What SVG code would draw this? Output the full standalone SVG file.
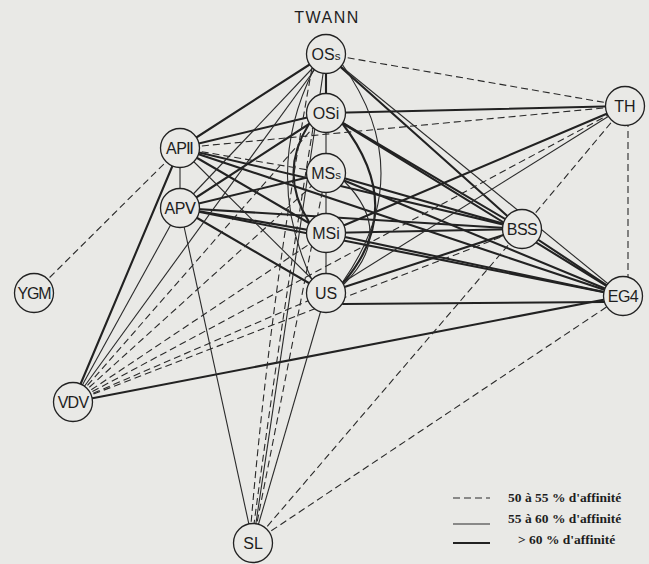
<svg xmlns="http://www.w3.org/2000/svg" width="649" height="564" viewBox="0 0 649 564">
<style>
.t{stroke:#222;stroke-width:2.1;fill:none;stroke-linecap:round}
.n{stroke:#2a2a2a;stroke-width:1.1;fill:none}
.d{stroke:#2a2a2a;stroke-width:1.1;fill:none;stroke-dasharray:7 4}
.node circle{fill:#e9e9e6;stroke:#222;stroke-width:1.3}
.lbl{font-family:"Liberation Sans",Arial,sans-serif;font-size:16px;fill:#1e1e1e;text-anchor:middle}
.sm{font-size:11.5px}
.leg{font-family:"Liberation Serif","Times New Roman",serif;font-size:13.5px;font-weight:bold;fill:#1e1e1e}
</style>
<rect width="649" height="564" fill="#e9e9e6"/>
<text x="327" y="23" class="lbl" style="letter-spacing:1.5px">TWANN</text>
<g id="connectors">
<line class="t" x1="326" y1="54" x2="326" y2="113"/>
<line class="t" x1="326" y1="54" x2="180" y2="148"/>
<line class="t" x1="326" y1="113" x2="180" y2="148"/>
<line class="t" x1="326" y1="113" x2="180" y2="208"/>
<line class="t" x1="326" y1="113" x2="625" y2="106"/>
<line class="t" x1="326" y1="54" x2="522" y2="229"/>
<line class="t" x1="326" y1="113" x2="522" y2="229"/>
<line class="t" x1="326" y1="113" x2="623" y2="296"/>
<line class="t" x1="180" y1="148" x2="326" y2="233"/>
<line class="t" x1="180" y1="148" x2="522" y2="229"/>
<line class="t" x1="180" y1="148" x2="623" y2="296"/>
<line class="t" x1="180" y1="208" x2="326" y2="173"/>
<line class="t" x1="180" y1="208" x2="326" y2="233"/>
<line class="t" x1="180" y1="208" x2="326" y2="293"/>
<line class="t" x1="180" y1="208" x2="522" y2="229"/>
<line class="t" x1="180" y1="208" x2="623" y2="296"/>
<line class="t" x1="326" y1="173" x2="522" y2="229"/>
<line class="t" x1="326" y1="233" x2="522" y2="229"/>
<line class="t" x1="326" y1="293" x2="522" y2="229"/>
<line class="t" x1="326" y1="173" x2="623" y2="296"/>
<line class="t" x1="326" y1="233" x2="623" y2="296"/>
<line class="t" x1="343" y1="304" x2="604" y2="302"/>
<line class="t" x1="522" y1="229" x2="623" y2="296"/>
<line class="t" x1="73" y1="402" x2="180" y2="148"/>
<line class="t" x1="73" y1="402" x2="623" y2="296"/>
<line class="t" x1="625" y1="106" x2="326" y2="233"/>
<path class="t" d="M309,124 Q278,173 309,222"/>
<path class="t" d="M342,123 Q408,208 343,283"/>
<line class="n" x1="326" y1="113" x2="326" y2="173"/>
<line class="n" x1="326" y1="173" x2="326" y2="233"/>
<line class="n" x1="326" y1="233" x2="326" y2="293"/>
<line class="n" x1="180" y1="148" x2="180" y2="208"/>
<line class="n" x1="326" y1="54" x2="180" y2="208"/>
<line class="n" x1="326" y1="54" x2="73" y2="402"/>
<line class="n" x1="73" y1="402" x2="180" y2="208"/>
<line class="n" x1="180" y1="208" x2="253" y2="543"/>
<line class="n" x1="326" y1="293" x2="253" y2="543"/>
<line class="n" x1="326" y1="54" x2="253" y2="543"/>
<line class="n" x1="326" y1="54" x2="623" y2="296"/>
<line class="n" x1="625" y1="106" x2="326" y2="293"/>
<line class="n" x1="180" y1="148" x2="326" y2="293"/>
<path class="n" d="M314,69 Q262,173 312,280"/>
<path class="n" d="M342,64 Q420,173 342,283"/>
<path class="n" d="M344,181 Q396,233 344,284"/>
<line class="d" x1="326" y1="54" x2="625" y2="106"/>
<line class="d" x1="180" y1="148" x2="625" y2="106"/>
<line class="d" x1="180" y1="148" x2="326" y2="173"/>
<line class="d" x1="34" y1="293" x2="180" y2="148"/>
<line class="d" x1="628" y1="120" x2="628" y2="280"/>
<line class="d" x1="625" y1="106" x2="522" y2="229"/>
<line class="d" x1="253" y1="543" x2="522" y2="229"/>
<line class="d" x1="253" y1="543" x2="623" y2="296"/>
<line class="d" x1="253" y1="543" x2="326" y2="173"/>
<line class="d" x1="73" y1="402" x2="326" y2="113"/>
<line class="d" x1="73" y1="402" x2="326" y2="173"/>
<line class="d" x1="73" y1="402" x2="326" y2="233"/>
<line class="d" x1="73" y1="402" x2="326" y2="293"/>
<line class="d" x1="73" y1="402" x2="522" y2="229"/>
<line class="d" x1="73" y1="402" x2="625" y2="106"/>
<path class="d" d="M312,68 Q270,300 251,524"/>
<path class="d" d="M313,128 Q280,330 254,524"/>
</g>
<g id="OSs" class="node"><circle cx="326" cy="54" r="19.5"/><text x="326" y="60" class="lbl">OS<tspan class="sm">s</tspan></text></g>
<g id="OSi" class="node"><circle cx="326" cy="113" r="19.5"/><text x="326" y="119" class="lbl">OSi</text></g>
<g id="MSs" class="node"><circle cx="326" cy="173" r="19.5"/><text x="326" y="179" class="lbl">MS<tspan class="sm">s</tspan></text></g>
<g id="MSi" class="node"><circle cx="326" cy="233" r="19.5"/><text x="326" y="239" class="lbl">MSi</text></g>
<g id="US" class="node"><circle cx="326" cy="293" r="19.5"/><text x="326" y="299" class="lbl">US</text></g>
<g id="APII" class="node"><circle cx="180" cy="148" r="19.5"/><text x="180" y="154" class="lbl" style="letter-spacing:-0.5px">APⅡ</text></g>
<g id="APV" class="node"><circle cx="180" cy="208" r="19.5"/><text x="180" y="214" class="lbl" style="letter-spacing:-0.5px">APⅤ</text></g>
<g id="TH" class="node"><circle cx="625" cy="106" r="19.5"/><text x="625" y="112" class="lbl">TH</text></g>
<g id="BSS" class="node"><circle cx="522" cy="229" r="19.5"/><text x="522" y="235" class="lbl" style="letter-spacing:-0.5px">BSS</text></g>
<g id="EG4" class="node"><circle cx="623" cy="296" r="19.5"/><text x="623" y="302" class="lbl" style="letter-spacing:-0.5px">EG4</text></g>
<g id="YGM" class="node"><circle cx="34" cy="293" r="19.5"/><text x="34" y="299" class="lbl" style="letter-spacing:-1.2px">YGM</text></g>
<g id="VDV" class="node"><circle cx="73" cy="402" r="19.5"/><text x="73" y="408" class="lbl" style="letter-spacing:-0.8px">VDV</text></g>
<g id="SL" class="node"><circle cx="253" cy="543" r="19.5"/><text x="253" y="549" class="lbl">SL</text></g>
<g id="legend">
<line class="d" x1="453" y1="498" x2="490" y2="498"/>
<line class="n" x1="453" y1="524" x2="490" y2="524"/>
<line class="t" x1="453" y1="543" x2="490" y2="543" style="stroke-linecap:butt"/>
<text x="508" y="502" class="leg">50 à 55 % d'affinité</text>
<text x="508" y="523" class="leg">55 à 60 % d'affinité</text>
<text x="518" y="544" class="leg">&gt; 60 % d'affinité</text>
</g>
</svg>
